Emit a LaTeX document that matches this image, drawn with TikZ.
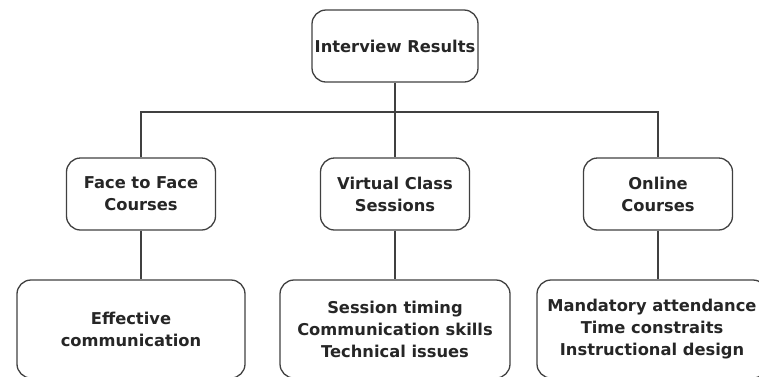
\documentclass[tikz,border=0pt]{standalone}
\usepackage{fontspec}
\setmainfont{DejaVu Sans}
\usetikzlibrary{positioning}

\begin{document}
\begin{tikzpicture}[x=1pt,y=-1pt,
  topic/.style={draw=black!75,line width=1.3pt,rounded corners=14pt,align=center,
    font=\bfseries\fontsize{16.3}{22}\selectfont,text=black!85,inner sep=0pt},
  link/.style={draw=black!75,line width=1.3pt}]
  \useasboundingbox (0,0) rectangle (759,376);
  \clip (0,0) rectangle (759,376);
  \node[topic,minimum width=166pt,minimum height=72pt] (results) at (395,46) {Interview Results};
  \node[topic,minimum width=149pt,minimum height=72pt] (face) at (141,194) {Face to Face\\Courses};
  \node[topic,minimum width=149pt,minimum height=72pt] (virtual) at (395,194) {Virtual Class\\Sessions};
  \node[topic,minimum width=149pt,minimum height=72pt] (online) at (658,194) {Online\\Courses};
  \node[topic,minimum width=228pt,minimum height=98pt] (effective) at (131,329) {Effective\\communication};
  \node[topic,minimum width=230pt,minimum height=98pt] (timing) at (395,329) {Session timing\\Communication skills\\Technical issues};
  \node[topic,minimum width=230pt,minimum height=98pt] (mandatory) at (652,329) {Mandatory attendance\\Time constraits\\Instructional design};
  \coordinate (split) at (395,112);
  \draw[link] (results) -- (split);
  \draw[link] (face.north) |- (split) -| (online.north);
  \draw[link] (split) -- (virtual.north);
  \draw[link] (face.south) -- (face.south |- effective.north);
  \draw[link] (virtual.south) -- (virtual.south |- timing.north);
  \draw[link] (online.south) -- (online.south |- mandatory.north);
\end{tikzpicture}
\end{document}
